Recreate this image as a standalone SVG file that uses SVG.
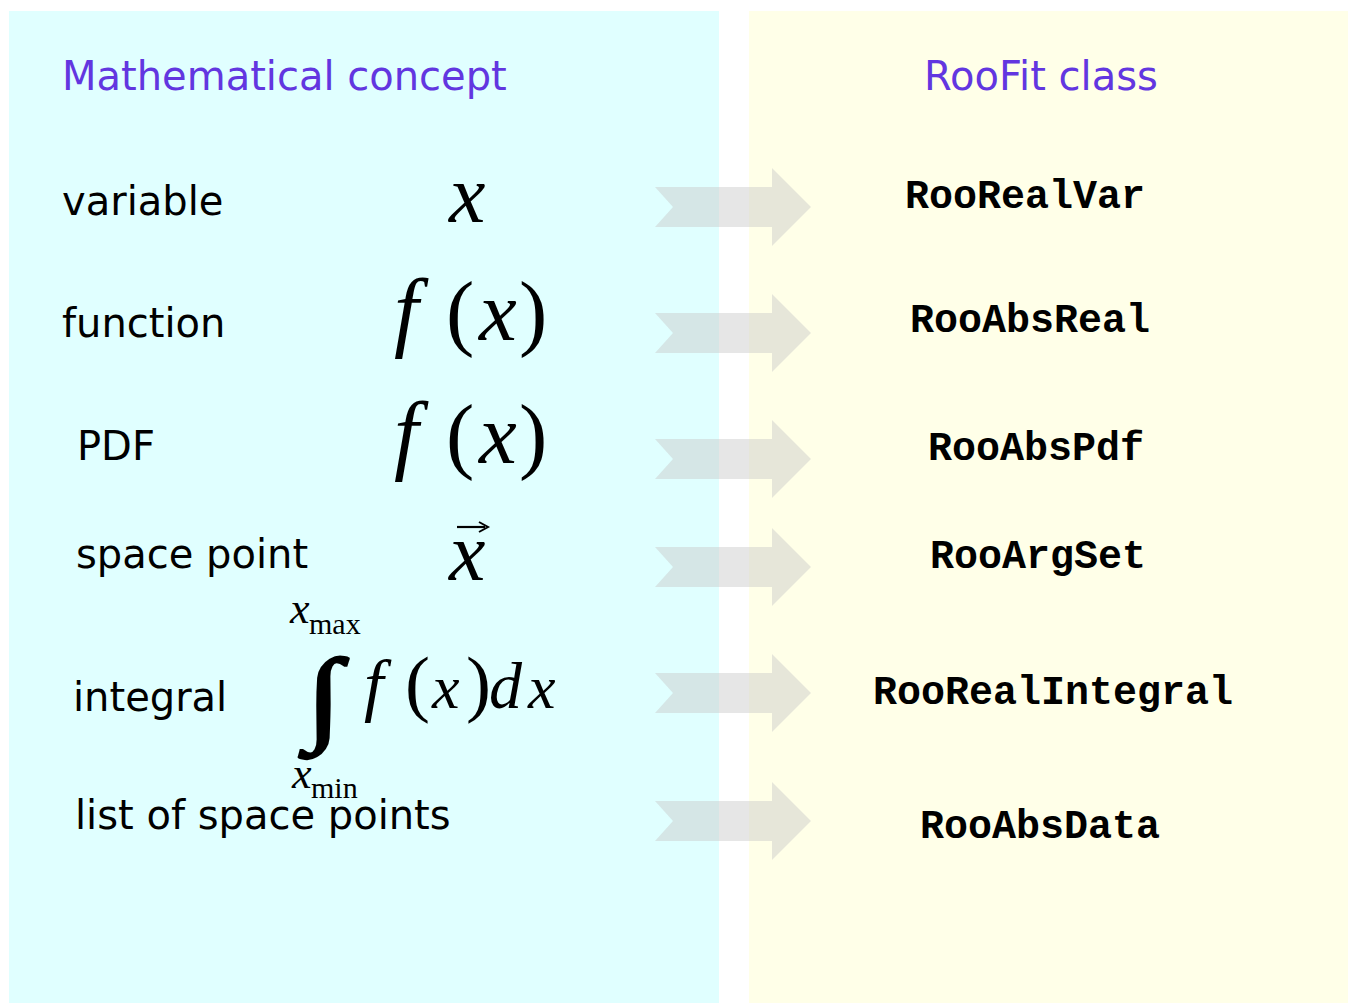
<svg xmlns="http://www.w3.org/2000/svg" width="1348" height="1003" viewBox="0 0 1348 1003">
<style>
.title{font-family:"DejaVu Sans",Verdana,sans-serif;font-size:40px;fill:#6236e0}
.lbl{font-family:"DejaVu Sans",Verdana,sans-serif;font-size:40px;fill:#000}
.cls{font-family:"Liberation Mono","Courier New",monospace;font-weight:bold;font-size:40px;fill:#000}
.mi{font-family:"Liberation Serif","Times New Roman",serif;font-style:italic;fill:#000}
.mr{font-family:"Liberation Serif","Times New Roman",serif;fill:#000}
.arrow{fill:#c8c8c8;fill-opacity:0.45}
</style>
<defs>
<polygon id="arr" points="655,-20 772,-20 772,-39 811,0 772,39 772,20 655,20 673,0"/>
</defs>
<rect x="0" y="0" width="1348" height="1003" fill="#fff"/>
<g id="panel-left"><rect x="9" y="11" width="710" height="992" fill="#e0ffff"/>
<text class="title" x="62" y="90">Mathematical concept</text></g>
<g id="panel-right"><rect x="749" y="11" width="599" height="992" fill="#ffffe8"/>
<text class="title" x="924" y="90">RooFit class</text></g>

<g id="row-variable">
<text class="lbl" x="62" y="215">variable</text>
<text class="mi" x="449" y="222" font-size="82">x</text>
</g>
<g id="row-function">
<text class="lbl" x="62" y="337">function</text>
<text class="mi" x="394" y="340" font-size="88">f</text>
<text class="mr" x="446" y="340" font-size="85">(</text>
<text class="mi" x="479" y="340" font-size="85">x</text>
<text class="mr" x="519" y="340" font-size="85">)</text>
</g>
<g id="row-pdf">
<text class="lbl" x="77" y="460">PDF</text>
<text class="mi" x="394" y="463" font-size="88">f</text>
<text class="mr" x="446" y="463" font-size="85">(</text>
<text class="mi" x="479" y="463" font-size="85">x</text>
<text class="mr" x="519" y="463" font-size="85">)</text>
</g>
<g id="row-spacepoint">
<text class="lbl" x="76" y="568">space point</text>
<text class="mi" x="449" y="580" font-size="82">x</text>
<path d="M457,527 H485" stroke="#000" stroke-width="2.2" fill="none"/>
<path d="M479,522 L488,527 L479,532" stroke="#000" stroke-width="2" fill="none"/>
</g>
<g id="row-integral">
<text class="lbl" x="73" y="711">integral</text>
<text class="mi" x="290" y="623" font-size="44">x</text>
<text class="mr" x="309" y="634" font-size="30">max</text>
<text class="mr" transform="translate(306,731) scale(1.25,1)" x="0" y="0" font-size="104" stroke="#000" stroke-width="2.5">∫</text>
<text class="mi" x="364" y="708" font-size="70">f</text>
<text class="mr" x="405" y="708" font-size="75">(</text>
<text class="mi" x="432" y="708" font-size="62">x</text>
<text class="mr" x="466" y="708" font-size="75">)</text>
<text class="mi" x="489" y="708" font-size="66">d</text>
<text class="mi" x="528" y="708" font-size="62">x</text>
<text class="mi" x="292" y="788" font-size="44">x</text>
<text class="mr" x="311" y="798" font-size="30">min</text>
</g>
<g id="row-list">
<text class="lbl" x="75" y="829">list of space points</text>
</g>

<g id="connectors">
<use href="#arr" class="arrow" y="207"/>
<use href="#arr" class="arrow" y="333"/>
<use href="#arr" class="arrow" y="459"/>
<use href="#arr" class="arrow" y="567"/>
<use href="#arr" class="arrow" y="693"/>
<use href="#arr" class="arrow" y="821"/>
</g>

<g id="classes">
<text class="cls" x="905" y="208">RooRealVar</text>
<text class="cls" x="910" y="332">RooAbsReal</text>
<text class="cls" x="928" y="460">RooAbsPdf</text>
<text class="cls" x="930" y="568">RooArgSet</text>
<text class="cls" x="873" y="704">RooRealIntegral</text>
<text class="cls" x="920" y="838">RooAbsData</text>
</g>
</svg>
